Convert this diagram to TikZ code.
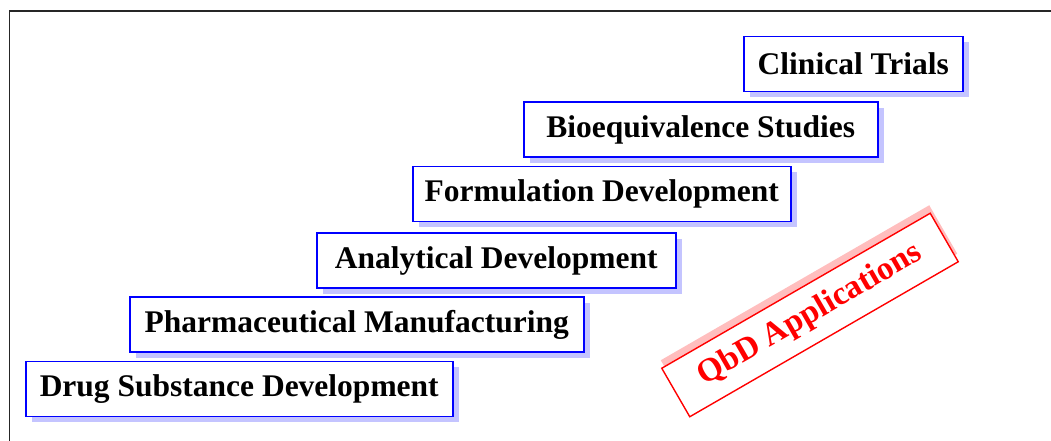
\documentclass[tikz,border=0pt]{standalone}
\usepackage{fontspec}
\setmainfont{Liberation Serif}
\usetikzlibrary{shadows}

\definecolor{stageblue}{RGB}{0,0,255}
\definecolor{shadeblue}{RGB}{196,196,255}
\definecolor{shadered}{RGB}{255,190,190}

\tikzset{
  stage/.style={draw=stageblue, line width=1.5pt, fill=white, anchor=west,
    minimum height=55pt, inner xsep=11pt, inner ysep=0pt,
    font=\fontsize{31.5}{36}\selectfont\bfseries,
    drop shadow={fill=shadeblue, opacity=1, shadow xshift=6pt, shadow yshift=-6pt}},
  qbd/.style={draw=red, line width=1.4pt, fill=white, text=red, rotate=30,
    minimum width=310pt, minimum height=56pt, inner sep=0pt,
    font=\fontsize{33}{38}\selectfont\bfseries,
    drop shadow={fill=shadered, opacity=1, shadow xshift=-1pt, shadow yshift=8pt}}
}

\begin{document}
\begin{tikzpicture}[x=1pt,y=1pt]
\useasboundingbox (0,0) rectangle (1051,441);

% frame
\draw[line width=1.8pt, black!85] (9.5,0) -- (9.5,430) -- (1051,430);

% stages
\node[stage, minimum width=427pt] (drug)  at ( 25, 52.0) {Drug Substance Development};
\node[stage, minimum width=454pt] (pharm) at (129,116.5) {Pharmaceutical Manufacturing};
\node[stage, minimum width=359pt] (anal)  at (316,180.5) {Analytical Development};
\node[stage, minimum width=378pt] (form)  at (412,247.0) {Formulation Development};
\node[stage, minimum width=354pt] (bioeq) at (523,311.5) {Bioequivalence Studies};
\node[stage, minimum width=219pt] (clin)  at (743,377.0) {Clinical Trials};

% label
\node[qbd] (qbdapp) at (810,126) {QbD Applications};
\end{tikzpicture}
\end{document}
